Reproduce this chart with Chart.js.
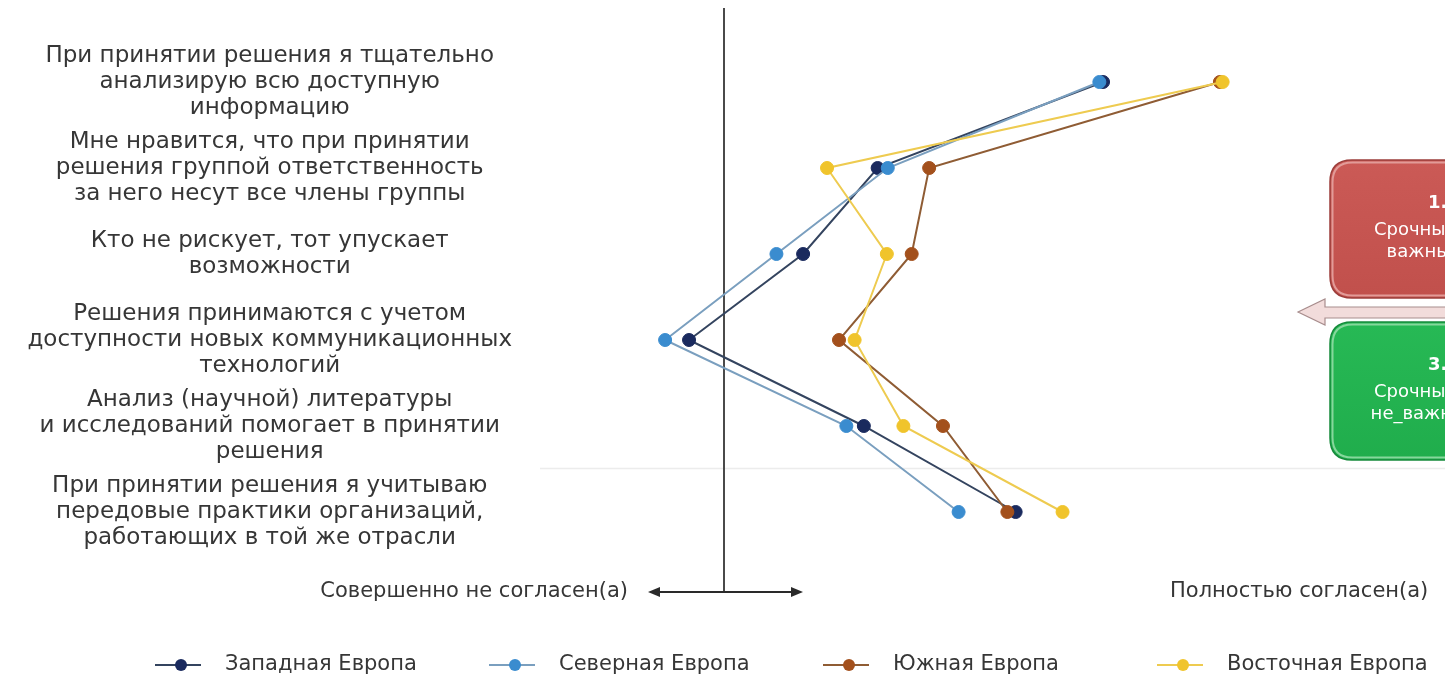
<!DOCTYPE html>
<html>
<head>
<meta charset="utf-8">
<script src="https://cdn.jsdelivr.net/npm/chart.js@4.4.1/dist/chart.umd.min.js"></script>
<style>
  html, body { margin: 0; padding: 0; background: #ffffff; }
  canvas { display: block; }
</style>
</head>
<body>
<canvas id="chart" width="1445" height="684"></canvas>
<script>
// Survey statements (one per row, split into display lines)
const statements = [
  ['При принятии решения я тщательно', 'анализирую всю доступную', 'информацию'],
  ['Мне нравится, что при принятии', 'решения группой ответственность', 'за него несут все члены группы'],
  ['Кто не рискует, тот упускает', 'возможности'],
  ['Решения принимаются с учетом', 'доступности новых коммуникационных', 'технологий'],
  ['Анализ (научной) литературы', 'и исследований помогает в принятии', 'решения'],
  ['При принятии решения я учитываю', 'передовые практики организаций,', 'работающих в той же отрасли']
];

// Region names (legend order)
const regions = ['Западная Европа', 'Северная Европа', 'Южная Европа', 'Восточная Европа'];

// Agreement index per statement, relative to the neutral line (0)
const westernEurope  = [4.12, 1.67, 0.86, -0.38, 1.52, 3.17];
const northernEurope = [4.08, 1.78, 0.57, -0.64, 1.33, 2.55];
const southernEurope = [5.39, 2.23, 2.04,  1.25, 2.38, 3.08];
const easternEurope  = [5.42, 1.12, 1.77,  1.42, 1.95, 3.68];

// Ends of the agreement scale
const scaleEnds = ['Совершенно не согласен(а)', 'Полностью согласен(а)'];

// Side cards
const cardHeadings = ['1.', '3.'];
const cardLines = [['Срочные и', 'важные'], ['Срочные и', 'не_важные']];

const FONT = '"DejaVu Sans", Verdana, sans-serif';
const TEXT = '#363636';

const series = [
  { label: regions[0], data: westernEurope,  dot: '#1a2a5e', line: '#34445f', order: 4 },
  { label: regions[1], data: northernEurope, dot: '#3a8ccf', line: '#7a9fbf', order: 3 },
  { label: regions[2], data: southernEurope, dot: '#a3501c', line: '#8f5c34', order: 2 },
  { label: regions[3], data: easternEurope,  dot: '#f0c42c', line: '#eecb50', order: 1 }
];

// Neutral line, scale arrow and end labels
const scaleGuide = {
  id: 'scaleGuide',
  beforeDatasetsDraw(chart) {
    const { ctx, scales: { x } } = chart;
    const x0 = x.getPixelForValue(0);
    const yArrow = 592;
    ctx.save();
    // faint separator
    ctx.strokeStyle = '#ececec';
    ctx.lineWidth = 1.5;
    ctx.beginPath();
    ctx.moveTo(540, 468.5);
    ctx.lineTo(1445, 468.5);
    ctx.stroke();
    // neutral vertical line
    ctx.strokeStyle = '#4a4a4a';
    ctx.lineWidth = 2;
    ctx.beginPath();
    ctx.moveTo(x0, 8);
    ctx.lineTo(x0, yArrow);
    ctx.stroke();
    // double-headed arrow
    const xl = x0 - 76, xr = x0 + 79;
    ctx.strokeStyle = '#2a2a2a';
    ctx.fillStyle = '#2a2a2a';
    ctx.beginPath();
    ctx.moveTo(xl + 8, yArrow);
    ctx.lineTo(xr - 8, yArrow);
    ctx.stroke();
    ctx.beginPath();
    ctx.moveTo(xl, yArrow);
    ctx.lineTo(xl + 12, yArrow - 5);
    ctx.lineTo(xl + 12, yArrow + 5);
    ctx.closePath();
    ctx.fill();
    ctx.beginPath();
    ctx.moveTo(xr, yArrow);
    ctx.lineTo(xr - 12, yArrow - 5);
    ctx.lineTo(xr - 12, yArrow + 5);
    ctx.closePath();
    ctx.fill();
    // end labels
    ctx.font = '21px ' + FONT;
    ctx.fillStyle = TEXT;
    ctx.textBaseline = 'middle';
    ctx.textAlign = 'right';
    ctx.fillText(scaleEnds[0], xl - 20, yArrow);
    ctx.textAlign = 'left';
    ctx.fillText(scaleEnds[1], 1170, yArrow);
    ctx.restore();
  }
};

function roundRect(ctx, x, y, w, h, r) {
  ctx.beginPath();
  ctx.moveTo(x + r, y);
  ctx.lineTo(x + w - r, y);
  ctx.quadraticCurveTo(x + w, y, x + w, y + r);
  ctx.lineTo(x + w, y + h - r);
  ctx.quadraticCurveTo(x + w, y + h, x + w - r, y + h);
  ctx.lineTo(x + r, y + h);
  ctx.quadraticCurveTo(x, y + h, x, y + h - r);
  ctx.lineTo(x, y + r);
  ctx.quadraticCurveTo(x, y, x + r, y);
  ctx.closePath();
}

// Side cards with the pointer arrow between them
const sideCards = {
  id: 'sideCards',
  afterDraw(chart) {
    const ctx = chart.ctx;
    ctx.save();
    const cards = [
      { y: 160, fill: '#c1504c', top: '#cb5a56', edge: '#e29b98', outline: '#9c3e3b' },
      { y: 322, fill: '#20ad4c', top: '#27b955', edge: '#86d79c', outline: '#168a3b' }
    ];
    cards.forEach((c, i) => {
      const x = 1330, w = 215, h = 138;
      const g = ctx.createLinearGradient(0, c.y, 0, c.y + h);
      g.addColorStop(0, c.top);
      g.addColorStop(1, c.fill);
      roundRect(ctx, x, c.y, w, h, 22);
      ctx.fillStyle = g;
      ctx.fill();
      ctx.lineWidth = 1.5;
      ctx.strokeStyle = c.outline;
      ctx.stroke();
      roundRect(ctx, x + 2.5, c.y + 2.5, w - 5, h - 5, 20);
      ctx.lineWidth = 2;
      ctx.strokeStyle = c.edge;
      ctx.stroke();
      ctx.fillStyle = '#ffffff';
      ctx.textBaseline = 'middle';
      ctx.textAlign = 'left';
      ctx.font = 'bold 18px ' + FONT;
      ctx.fillText(cardHeadings[i], 1428, c.y + 43);
      ctx.font = '18px ' + FONT;
      ctx.textAlign = 'center';
      ctx.fillText(cardLines[i][0], 1424, c.y + 70);
      ctx.fillText(cardLines[i][1], 1424, c.y + 92);
    });
    // pointer arrow
    const ay = 312;
    ctx.beginPath();
    ctx.moveTo(1298, ay);
    ctx.lineTo(1325, ay - 13);
    ctx.lineTo(1325, ay - 5);
    ctx.lineTo(1450, ay - 5);
    ctx.lineTo(1450, ay + 6);
    ctx.lineTo(1325, ay + 6);
    ctx.lineTo(1325, ay + 13);
    ctx.closePath();
    ctx.fillStyle = '#f2dcdb';
    ctx.fill();
    ctx.lineWidth = 1.2;
    ctx.strokeStyle = '#a88d8d';
    ctx.stroke();
    ctx.restore();
  }
};

// Legend laid out in equal columns
const columnLegend = {
  id: 'columnLegend',
  afterDraw(chart) {
    const ctx = chart.ctx;
    const y = 665;
    ctx.save();
    chart.data.datasets.forEach((ds, i) => {
      const x = 155 + i * 334;
      ctx.strokeStyle = ds.borderColor;
      ctx.lineWidth = 2;
      ctx.beginPath();
      ctx.moveTo(x, y);
      ctx.lineTo(x + 46, y);
      ctx.stroke();
      ctx.beginPath();
      ctx.arc(x + 26, y, 6, 0, Math.PI * 2);
      ctx.fillStyle = ds.pointBackgroundColor;
      ctx.fill();
      ctx.font = '21px ' + FONT;
      ctx.fillStyle = TEXT;
      ctx.textAlign = 'left';
      ctx.textBaseline = 'middle';
      ctx.fillText(ds.label, x + 70, y);
    });
    ctx.restore();
  }
};

new Chart(document.getElementById('chart'), {
  type: 'line',
  data: {
    labels: statements,
    datasets: series.map(s => ({
      label: s.label,
      data: s.data,
      order: s.order,
      borderColor: s.line,
      borderWidth: 2,
      pointBackgroundColor: s.dot,
      pointBorderColor: s.dot,
      pointBorderWidth: 1,
      pointRadius: 6.5,
      pointHoverRadius: 6.5,
      tension: 0,
      fill: false
    }))
  },
  options: {
    indexAxis: 'y',
    responsive: false,
    animation: false,
    devicePixelRatio: 1,
    layout: { padding: { top: 39, bottom: 129, right: 77, left: 0 } },
    plugins: {
      legend: { display: false },
      tooltip: { enabled: false }
    },
    scales: {
      x: {
        type: 'linear',
        min: -2,
        max: 7,
        display: false
      },
      y: {
        type: 'category',
        offset: true,
        grid: { display: false, drawTicks: false },
        border: { display: false },
        ticks: {
          crossAlign: 'center',
          padding: 28,
          color: TEXT,
          font: { family: FONT, size: 23, lineHeight: '26px' }
        },
        afterFit(scale) {
          scale.width = 540;
          scale.paddingTop = 0;
          scale.paddingBottom = 0;
        }
      }
    }
  },
  plugins: [scaleGuide, sideCards, columnLegend]
});
</script>
</body>
</html>
